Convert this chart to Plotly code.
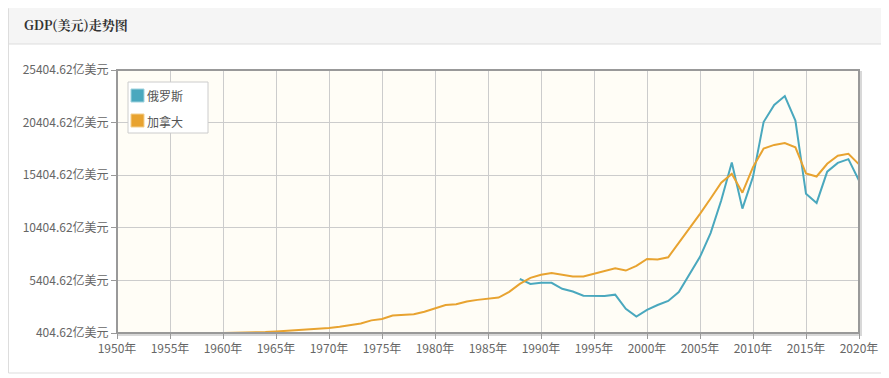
import plotly.graph_objects as go

years_canada = list(range(1960, 2021))
canada = [404.62, 409.35, 422.27, 448.38, 488.83, 539.09, 603.58, 650.68, 707.61, 778.85,
          880.0, 992.7, 1130.8, 1313.2, 1604.1, 1738.3, 2065.7, 2116.1, 2186.3, 2430.7,
          2738.5, 3062.1, 3135.1, 3405.5, 3553.7, 3647.6, 3774.4, 4313.2, 5073.5, 5650.6,
          5939.3, 6103.3, 5923.9, 5771.7, 5781.4, 6040.3, 6285.5, 6549.9, 6340.0, 6784.1,
          7447.7, 7389.8, 7601.5, 8955.4, 10266.9, 11731.1, 13192.6, 14688.2, 15529.9, 13746.3,
          16173.4, 17933.3, 18283.7, 18466.0, 18057.5, 15565.1, 15279.9, 16492.7, 17253.3, 17437.3,
          16440.4]

years_russia = list(range(1988, 2021))
russia = [5547.1, 5065.0, 5170.0, 5179.6, 4602.1, 4350.8, 3950.8, 3954.6, 3917.2, 4049.3,
          2709.5, 1959.1, 2597.1, 3066.0, 3454.7, 4303.5, 5910.2, 7640.2, 9899.3, 12997.1,
          16608.4, 12226.4, 15249.2, 20459.3, 22083.0, 22925.0, 20592.4, 13635.0, 12768.0, 15742.0,
          16573.0, 16931.0, 14894.0]

series_names = ["俄罗斯", "加拿大"]
y_ticks = [404.62 + 5000 * k for k in range(6)]
y_labels = [f"{v:.2f}亿美元" for v in y_ticks]
x_ticks = list(range(1950, 2021, 5))
x_labels = [f"{y}年" for y in x_ticks]

C_RU = "#4aa8be"
C_CA = "#e8a330"

# page is offset by the 8px body margin
OFF = 8
W, H = 889 - OFF, 378 - OFF
L, R, T, B = 117 - OFF, 859 - OFF, 70 - OFF, 333 - OFF
def px(x):  # page pixel -> paper
    return (x - OFF - L) / (R - L)
def py(y):
    return (B - (y - OFF)) / (B - T)

fig = go.Figure()
fig.add_trace(go.Scatter(x=years_russia, y=russia, mode="lines", name=series_names[0],
                         line=dict(color=C_RU, width=2), showlegend=False))
fig.add_trace(go.Scatter(x=years_canada, y=canada, mode="lines", name=series_names[1],
                         line=dict(color=C_CA, width=2), showlegend=False))

font_family = "Noto Sans CJK SC, DejaVu Sans, sans-serif"

shapes = [
    # outer panel
    dict(type="rect", xref="paper", yref="paper", x0=px(8.5), x1=px(882), y0=py(373), y1=py(8.5),
         line=dict(color="#dddddd", width=1), fillcolor="white", layer="below"),
    # header
    dict(type="rect", xref="paper", yref="paper", x0=px(9), x1=px(881.5), y0=py(44), y1=py(8),
         line=dict(width=0), fillcolor="#f5f5f5", layer="below"),
    dict(type="line", xref="paper", yref="paper", x0=px(9), x1=px(881.5), y0=py(44), y1=py(44),
         line=dict(color="#dddddd", width=1), layer="below"),
    # shadow
    dict(type="rect", xref="paper", yref="paper", x0=px(119), x1=px(861), y0=py(335), y1=py(72),
         line=dict(color="#d8d8d8", width=2), layer="below"),
    # plot bg
    dict(type="rect", xref="paper", yref="paper", x0=0, x1=1, y0=0, y1=1,
         line=dict(width=0), fillcolor="#fffdf6", layer="below"),
    # frame
    dict(type="rect", xref="paper", yref="paper", x0=0, x1=1, y0=0, y1=1,
         line=dict(color="#999999", width=2), layer="above"),
    # legend box
    dict(type="rect", xref="paper", yref="paper", x0=px(128), x1=px(208), y0=py(133), y1=py(82),
         line=dict(color="#cccccc", width=1), fillcolor="white", layer="above"),
    dict(type="rect", xref="paper", yref="paper", x0=px(131), x1=px(144), y0=py(102), y1=py(89),
         line=dict(color="#9fd3df", width=1), fillcolor=C_RU, layer="above"),
    dict(type="rect", xref="paper", yref="paper", x0=px(131), x1=px(144), y0=py(127), y1=py(114),
         line=dict(color="#f3cf8e", width=1), fillcolor=C_CA, layer="above"),
]

annotations = [
    dict(text="<b>GDP(美元)走势图</b>", xref="paper", yref="paper",
         x=px(22), y=py(24), xanchor="left", yanchor="middle", showarrow=False,
         font=dict(family="Noto Serif CJK SC, Noto Sans CJK SC, serif", size=13, color="#333333")),
    dict(text=series_names[0], xref="paper", yref="paper", x=px(145), y=py(96),
         xanchor="left", yanchor="middle", showarrow=False,
         font=dict(family=font_family, size=12, color="#555555")),
    dict(text=series_names[1], xref="paper", yref="paper", x=px(145), y=py(121),
         xanchor="left", yanchor="middle", showarrow=False,
         font=dict(family=font_family, size=12, color="#555555")),
]

fig.update_layout(
    width=W, height=H,
    margin=dict(l=L, r=W - R, t=T, b=H - B),
    paper_bgcolor="white",
    plot_bgcolor="rgba(0,0,0,0)",
    shapes=shapes,
    annotations=annotations,
    showlegend=False,
    xaxis=dict(range=[1950, 2020], tickvals=x_ticks, ticktext=x_labels,
               showgrid=True, gridcolor="#cccccc", gridwidth=1, zeroline=False,
               ticks="outside", ticklen=5, tickcolor="#999999", showline=False,
               tickfont=dict(family=font_family, size=12, color="#666666")),
    yaxis=dict(range=[404.62, 25404.62], tickvals=y_ticks, ticktext=y_labels,
               showgrid=True, gridcolor="#cccccc", gridwidth=1, zeroline=False,
               ticks="outside", ticklen=5, tickcolor="#999999", showline=False,
               tickfont=dict(family=font_family, size=12, color="#666666")),
)

fig.write_html("out.html")
